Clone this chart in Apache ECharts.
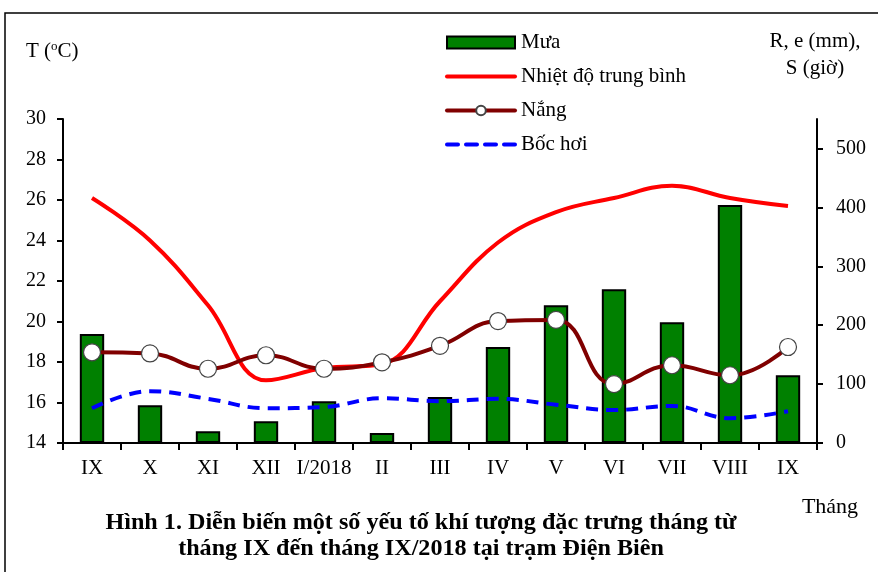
<!DOCTYPE html>
<html>
<head>
<meta charset="utf-8">
<script src="https://cdn.jsdelivr.net/npm/echarts@6/dist/echarts.min.js"></script>
<style>
html,body{margin:0;padding:0;background:#fff;}
#c{width:878px;height:572px;}
</style>
</head>
<body>
<div id="c"></div>
<script>
var months = ['IX','X','XI','XII','I/2018','II','III','IV','V','VI','VII','VIII','IX'];
var rain = [185, 64, 20, 37, 71, 17, 78, 163, 234, 261, 205, 404, 115];
var temperature = [26.1, 24.0, 20.8, 17.1, 17.7, 17.9, 21.0, 23.9, 25.4, 26.1, 26.7, 26.1, 25.7];
var sunshine = [154, 152, 126, 149, 126, 137, 165, 207, 209, 100, 132, 115, 163];
var evaporation = [59, 88, 75, 59, 61, 76, 71, 75, 65, 56, 63, 42, 54];

var FONT = '"Liberation Serif", "Times New Roman", serif';
var chart = echarts.init(document.getElementById('c'));
chart.setOption({
  animation: false,
  backgroundColor: '#fff',
  textStyle: {fontFamily: FONT, color: '#000'},
  grid: {left: 63, right: 61, top: 119, bottom: 129, containLabel: false},
  legend: {
    orient: 'vertical',
    left: 445,
    top: 32,
    padding: 0,
    itemWidth: 68,
    itemHeight: 12,
    itemGap: 13,
    textStyle: {fontFamily: FONT, fontSize: 21, color: '#000', padding: [0, 0, 0, 1]},
    data: [
      {name: 'Mưa', icon: 'rect', itemStyle: {color: '#008000', borderColor: '#000', borderWidth: 2}},
      {name: 'Nhiệt độ trung bình', itemStyle: {opacity: 0}, lineStyle: {color: '#FF0000', width: 4, cap: 'round'}},
      {name: 'Nắng', lineStyle: {color: '#800000', width: 4, cap: 'round'}},
      {name: 'Bốc hơi', itemStyle: {opacity: 0}, lineStyle: {color: '#0000FF', width: 4, type: [11, 8], cap: 'round'}}
    ]
  },
  graphic: [
    {type: 'rect', shape: {x: 5, y: 13, width: 900, height: 600}, style: {fill: 'none', stroke: '#000', lineWidth: 1.5}, silent: true, z: -1},
    {type: 'text', left: 26, top: 40, style: {
      text: '{a|T (}{s|o}{a|C)}',
      rich: {
        a: {fontFamily: FONT, fontSize: 21, fill: '#000'},
        s: {fontFamily: FONT, fontSize: 13, fill: '#000', verticalAlign: 'top', padding: [0, 0, 9, 0]}
      }
    }},
    {type: 'text', x: 815, y: 41, style: {text: 'R, e (mm),', font: '21px ' + FONT, fill: '#000', textAlign: 'center', textVerticalAlign: 'middle'}},
    {type: 'text', x: 815, y: 68, style: {text: 'S (giờ)', font: '21px ' + FONT, fill: '#000', textAlign: 'center', textVerticalAlign: 'middle'}},
    {type: 'text', x: 830, y: 507, style: {text: 'Tháng', font: '22px ' + FONT, fill: '#000', textAlign: 'center', textVerticalAlign: 'middle'}},
    {type: 'text', x: 421, y: 523, scaleX: 1.05, originX: 0, originY: 0, style: {text: 'Hình 1. Diễn biến một số yếu tố khí tượng đặc trưng tháng từ', font: 'bold 23px ' + FONT, fill: '#000', textAlign: 'center', textVerticalAlign: 'middle'}},
    {type: 'text', x: 421, y: 549, scaleX: 1.05, originX: 0, originY: 0, style: {text: 'tháng IX đến tháng IX/2018 tại trạm Điện Biên', font: 'bold 23px ' + FONT, fill: '#000', textAlign: 'center', textVerticalAlign: 'middle'}}
  ],
  xAxis: {
    type: 'category',
    data: months,
    boundaryGap: true,
    axisLine: {onZero: false, lineStyle: {color: '#000', width: 2}},
    axisTick: {show: true, length: 7, lineStyle: {color: '#000', width: 2}},
    axisLabel: {fontFamily: FONT, fontSize: 21, color: '#000', margin: 15, interval: 0},
    splitLine: {show: false}
  },
  yAxis: [
    {
      type: 'value', min: 14, max: 30, interval: 2, position: 'left',
      axisLine: {show: true, lineStyle: {color: '#000', width: 2}},
      axisTick: {show: true, length: 6, lineStyle: {color: '#000', width: 2}},
      axisLabel: {fontFamily: FONT, fontSize: 20, color: '#000', margin: 17},
      splitLine: {show: false}
    },
    {
      type: 'value', min: 0, max: 550, interval: 100, position: 'right',
      axisLine: {show: true, lineStyle: {color: '#000', width: 2}},
      axisTick: {show: true, length: 6, lineStyle: {color: '#000', width: 2}},
      axisLabel: {fontFamily: FONT, fontSize: 20, color: '#000', margin: 19, showMaxLabel: false},
      splitLine: {show: false}
    }
  ],
  series: [
    {
      name: 'Mưa', type: 'bar', yAxisIndex: 1, data: rain, barWidth: '42%',
      itemStyle: {color: '#008000', borderColor: '#000', borderWidth: 2},
      z: 1
    },
    {
      name: 'Nhiệt độ trung bình', type: 'line', yAxisIndex: 0, data: temperature, smooth: 0.4,
      showSymbol: false, symbol: 'none',
      lineStyle: {color: '#FF0000', width: 4},
      itemStyle: {color: '#FF0000'},
      z: 3
    },
    {
      name: 'Nắng', type: 'line', yAxisIndex: 1, data: sunshine, smooth: 0.45,
      symbol: 'circle', symbolSize: 17,
      lineStyle: {color: '#800000', width: 4},
      itemStyle: {color: '#fff', borderColor: '#444', borderWidth: 1.2},
      z: 4
    },
    {
      name: 'Bốc hơi', type: 'line', yAxisIndex: 1, data: evaporation, smooth: 0.4,
      showSymbol: false, symbol: 'none',
      lineStyle: {color: '#0000FF', width: 4, type: [12, 8]},
      itemStyle: {color: '#0000FF'},
      z: 2
    }
  ]
});
</script>
</body>
</html>
